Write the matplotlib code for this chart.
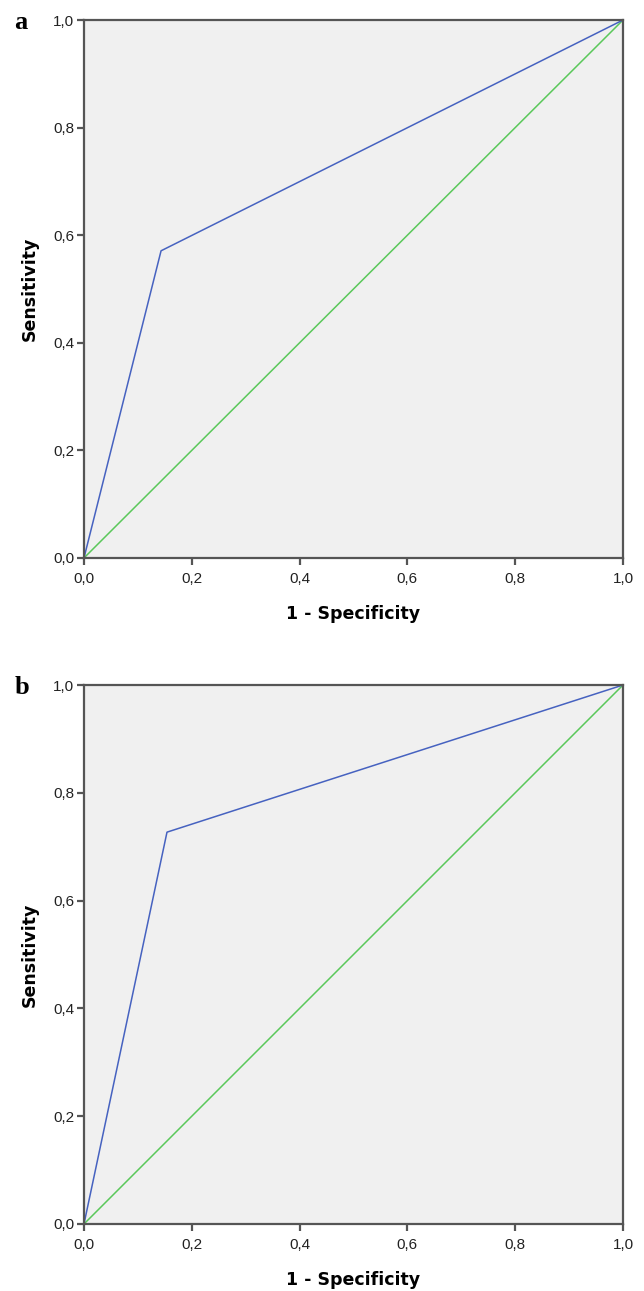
import matplotlib
matplotlib.use("Agg")
import matplotlib.pyplot as plt
from matplotlib.ticker import FuncFormatter

# ROC curves (1 - specificity, sensitivity)
fpr_a = [0.0, 0.143, 1.0]
tpr_a = [0.0, 0.571, 1.0]
fpr_b = [0.0, 0.154, 1.0]
tpr_b = [0.0, 0.727, 1.0]
ref_line = [0.0, 1.0]
ticks = [0.0, 0.2, 0.4, 0.6, 0.8, 1.0]
panel_labels = ['a', 'b']

plt.rcParams['font.family'] = ['Liberation Sans', 'DejaVu Sans']

fig = plt.figure(figsize=(6.44, 12.91), dpi=100)

comma = FuncFormatter(lambda v, p: f"{v:.1f}".replace('.', ','))

def roc_panel(rect, fpr, tpr, letter):
    ax = fig.add_axes(rect)
    ax.set_facecolor('#f0f0f0')
    ax.plot(ref_line, ref_line, color='#5ac85a', lw=1.1)
    ax.plot(fpr, tpr, color='#4662c0', lw=1.1)
    ax.set_xlim(0, 1)
    ax.set_ylim(0, 1)
    ax.set_xticks(ticks)
    ax.set_yticks(ticks)
    ax.xaxis.set_major_formatter(comma)
    ax.yaxis.set_major_formatter(comma)
    for s in ax.spines.values():
        s.set_color('#555555')
        s.set_linewidth(1.6)
    ax.tick_params(direction='out', length=5, width=1.6, color='#555555',
                   labelsize=11, labelcolor='#222222', pad=2)
    ax.tick_params(axis='x', pad=5)
    ax.set_xlabel('1 - Specificity', fontsize=12.5, fontweight='bold',
                  family='DejaVu Sans', labelpad=14)
    ax.set_ylabel('Sensitivity', fontsize=12.5, fontweight='bold',
                  family='DejaVu Sans', labelpad=10)
    fig.text(0.022, rect[1] + rect[3] - 0.002, letter, fontsize=19, fontweight='bold',
             family='Liberation Serif', va='center', ha='left')
    return ax

roc_panel([0.1304, 0.5678, 0.837, 0.4167], fpr_a, tpr_a, panel_labels[0])
roc_panel([0.1304, 0.0519, 0.837, 0.4175], fpr_b, tpr_b, panel_labels[1])

plt.savefig('out.png', dpi=100)
